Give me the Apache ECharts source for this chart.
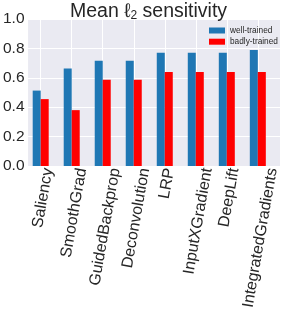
<!DOCTYPE html>
<html>
<head>
<meta charset="utf-8">
<script src="https://cdn.jsdelivr.net/npm/echarts@6/dist/echarts.min.js"></script>
<style>
html,body{margin:0;padding:0;background:#fff;}
#c{width:281px;height:316px;}
</style>
</head>
<body>
<div id="c"></div>
<script>
const categories = ['Saliency', 'SmoothGrad', 'GuidedBackprop', 'Deconvolution', 'LRP', 'InputXGradient', 'DeepLift', 'IntegratedGradients'];
const wellTrained = [0.513, 0.663, 0.716, 0.716, 0.770, 0.770, 0.770, 0.789];
const badlyTrained = [0.455, 0.380, 0.586, 0.586, 0.639, 0.639, 0.639, 0.639];
const seriesNames = ['well-trained', 'badly-trained'];
const yTicks = [0.0, 0.2, 0.4, 0.6, 0.8, 1.0];

const FONT = '"Liberation Sans", Arial, sans-serif';
const LABEL_SIZE = 16;
const ROT = 80;
const rad = ROT * Math.PI / 180;

// measure label widths to centre rotated labels under their ticks (matplotlib-like)
const cv = document.createElement('canvas').getContext('2d');
cv.font = LABEL_SIZE + 'px ' + FONT;
const shifts = categories.map(c => {
  const L = cv.measureText(c).width;
  return (L * Math.cos(rad) / 2 + 2.5) / Math.sin(rad);
});
const pMax = Math.max(...shifts);
const rich = {};
categories.forEach((c, i) => {
  const p = shifts[i];
  const q = Math.cos(rad) * (pMax - p) / Math.sin(rad);
  rich['l' + i] = {
    fontSize: LABEL_SIZE, fontFamily: FONT, color: '#262626', lineHeight: 16,
    padding: [2 * p, q, 0, 0]
  };
});
const labelMargin = 2.2 - Math.cos(rad) * pMax;

const chart = echarts.init(document.getElementById('c'), null, {renderer: 'canvas'});
chart.setOption({
  animation: false,
  title: {
    text: '{t|Mean ℓ}{s|2}{t| sensitivity}',
    left: 148.5, top: 0, textAlign: 'center', padding: 0,
    textStyle: {
      fontWeight: 'normal',
      rich: {
        t: {fontSize: 19.5, fontWeight: 'normal', fontFamily: FONT, color: '#262626', lineHeight: 24},
        s: {fontSize: 12, fontWeight: 'normal', fontFamily: FONT, color: '#262626', lineHeight: 17, padding: [7, 0, 0, 0]}
      }
    }
  },
  legend: {
    data: seriesNames,
    orient: 'vertical', left: 204, top: 20.5,
    itemWidth: 16, itemHeight: 6, itemGap: 1.2, icon: 'rect',
    textStyle: {fontSize: 8.3, fontFamily: FONT, color: '#262626', lineHeight: 10}
  },
  grid: [
    {left: 21, right: 1, top: 19, bottom: 150, show: true, backgroundColor: '#EAEAF2', borderWidth: 0},
    {left: 40.7, right: 20.3, top: 19, bottom: 150}
  ],
  xAxis: [
    {gridIndex: 0, type: 'value', show: false, min: 0, max: 1},
    {
      gridIndex: 1, type: 'category', data: categories, boundaryGap: false,
      axisLine: {show: false}, axisTick: {show: false},
      splitLine: {show: true, interval: 0, lineStyle: {color: '#ffffff', width: 1}},
      axisLabel: {
        interval: 0, rotate: ROT, margin: labelMargin,
        fontSize: LABEL_SIZE, fontFamily: FONT, color: '#262626',
        formatter: (v, i) => '{l' + i + '|' + v + '}',
        rich: rich
      }
    }
  ],
  yAxis: [
    {
      gridIndex: 0, type: 'value', min: yTicks[0], max: yTicks[yTicks.length - 1],
      interval: yTicks[1] - yTicks[0],
      axisLine: {show: false}, axisTick: {show: false},
      splitLine: {show: true, lineStyle: {color: '#ffffff', width: 1}},
      axisLabel: {fontSize: 15.5, fontFamily: FONT, color: '#262626', margin: 3.5,
        formatter: v => v.toFixed(1)}
    },
    {gridIndex: 1, type: 'value', min: yTicks[0], max: yTicks[yTicks.length - 1], show: false}
  ],
  series: [
    {
      name: seriesNames[0], type: 'bar', xAxisIndex: 1, yAxisIndex: 1,
      data: wellTrained, barWidth: 8, barGap: '0%', clip: false,
      itemStyle: {color: '#1f77b4'}
    },
    {
      name: seriesNames[1], type: 'bar', xAxisIndex: 1, yAxisIndex: 1,
      data: badlyTrained, barWidth: 8, barGap: '0%', clip: false,
      itemStyle: {color: '#ff0000'}
    }
  ]
});
</script>
</body>
</html>
